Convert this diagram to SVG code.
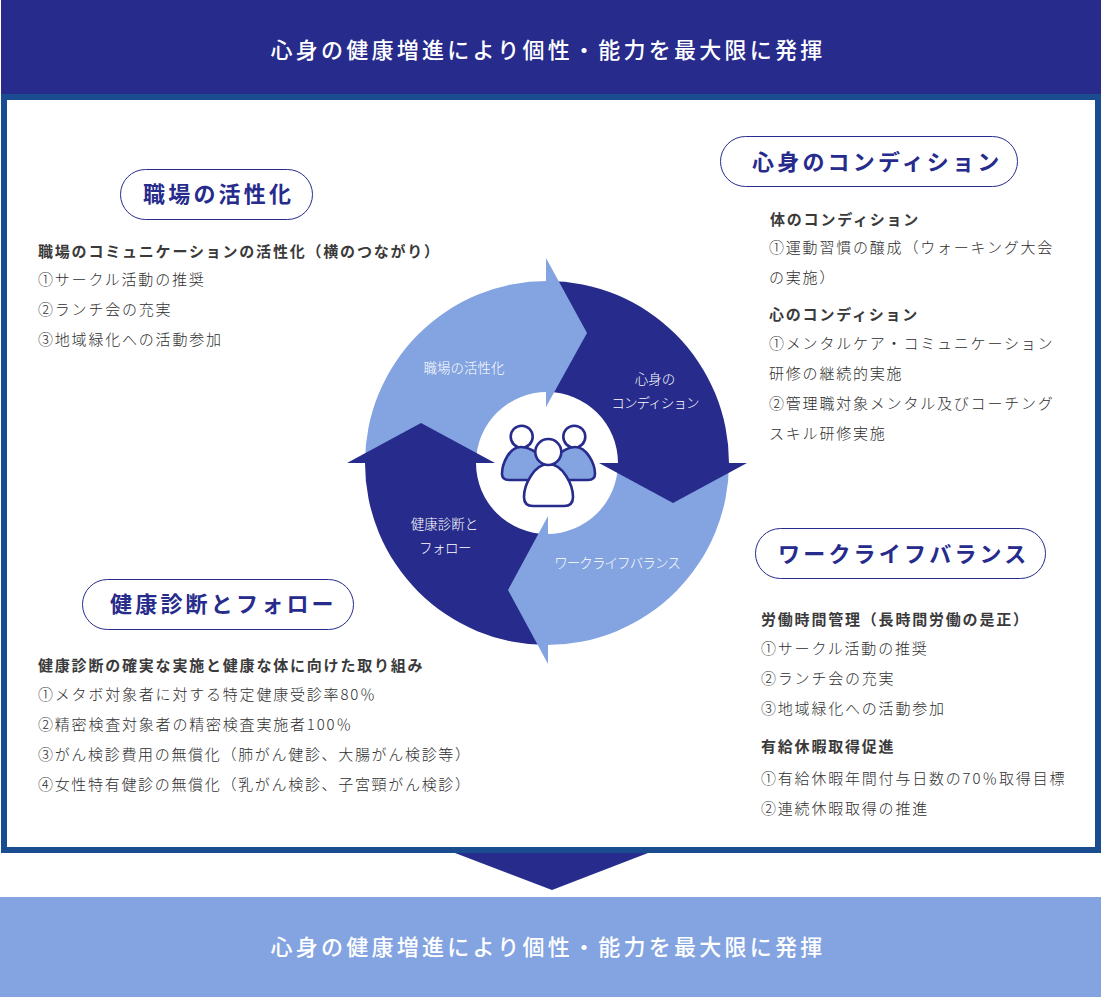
<svg xmlns="http://www.w3.org/2000/svg" width="1101" height="998" viewBox="0 0 1101 998">
<style>
text{font-family:"Noto Sans CJK JP","Noto Sans",sans-serif}
.band{font-size:22px;font-weight:500;letter-spacing:3.25px;fill:#fff;text-anchor:middle}
.pill{fill:#fff;stroke:#262b8c;stroke-width:1}
.ttl{font-size:22px;font-weight:700;letter-spacing:3.2px;fill:#262b8c}
.h{font-size:15px;font-weight:700;letter-spacing:1.8px;fill:#3a3a3a}
.b{font-size:15px;font-weight:300;letter-spacing:1.8px;fill:#2e2e2e}
.n{letter-spacing:1.68px}
.seg{font-size:13.5px;font-weight:300;fill:#fff;text-anchor:middle}
.kana{letter-spacing:-0.9px}
.dk{fill:#262b8c}.lt{fill:#83a4e0}
.ic{stroke:#262b8c;stroke-width:2.6;stroke-linejoin:round}
</style>
<g id="top-band"><rect x="1" y="0" width="1100" height="95" class="dk"/><text class="band" x="548" y="58">心身の健康増進により個性・能力を最大限に発揮</text></g>
<g id="frame"><rect x="4" y="97" width="1094" height="753" fill="#fff" stroke="#1a4d8f" stroke-width="6"/></g>
<g id="connectors"><polygon class="dk" points="455,853 648,853 552,890"/></g>
<g id="bottom-band"><rect x="0" y="897" width="1101" height="100" class="lt"/><text class="band" x="548" y="955">心身の健康増進により個性・能力を最大限に発揮</text></g>
<g id="cycle">
<g id="seg-right"><path class="dk" d="M547 281A182 182 0 0 1 729 463H618A71 71 0 0 0 547 392Z"/></g>
<g id="seg-bottom"><path class="lt" d="M729 463A182 182 0 0 1 547 645V534A71 71 0 0 0 618 463Z"/></g>
<g id="seg-left"><path class="dk" d="M547 645A182 182 0 0 1 365 463H476A71 71 0 0 0 547 534Z"/></g>
<g id="seg-top"><path class="lt" d="M365 463A182 182 0 0 1 547 281V392A71 71 0 0 0 476 463Z"/></g>
<polygon class="lt" points="546,258 587,333 546,407"/>
<polygon class="dk" points="599,463 747,463 673,503"/>
<polygon class="lt" points="548,516 508,590 548,664"/>
<polygon class="dk" points="347,463 495,463 421,423"/>
<text class="seg" x="464" y="373">職場の活性化</text>
<text class="seg" x="655" y="384">心身の</text>
<text class="seg kana" x="655" y="408">コンディション</text>
<text class="seg kana" x="617" y="568">ワークライフバランス</text>
<text class="seg" x="444.500" y="529">健康診断と</text>
<text class="seg" style="letter-spacing:-0.5px" x="445" y="553">フォロー</text>
</g>
<g id="people-icon">
<circle class="ic" cx="521.7" cy="436.7" r="11" fill="#fff"/>
<circle class="ic" cx="574.3" cy="436.7" r="11" fill="#fff"/>
<path class="ic lt" d="M521 447C509 447 502 464 502 474Q502 480 509 480H535L545 460Q532 447 521 447Z"/>
<path class="ic lt" d="M575 447C587 447 595 464 595 474Q595 480 588 480H562L552 460Q565 447 575 447Z"/>
<path class="ic" fill="#fff" d="M548.500 464C534 464 524 485 524 497Q524 506 533 506H564Q573 506 573 497C573 485 563 464 548.500 464Z"/>
<circle class="ic" cx="548.300" cy="452" r="13" fill="#fff"/>
</g>
<g id="node-workplace">
<rect class="pill" x="120.500" y="169.500" width="192" height="50" rx="25"/>
<text class="ttl" x="143" y="202">職場の活性化</text>
<text class="h" x="38" y="257">職場のコミュニケーションの活性化（横のつながり）</text>
<text class="b" x="38" y="285">①サークル活動の推奨</text>
<text class="b" x="38" y="315">②ランチ会の充実</text>
<text class="b" x="38" y="345">③地域緑化への活動参加</text>
</g>
<g id="node-condition">
<rect class="pill" x="720.500" y="136.500" width="297" height="50" rx="25"/>
<text class="ttl" x="752" y="170">心身のコンディション</text>
<text class="h" x="770" y="225">体のコンディション</text>
<text class="b" x="769" y="253">①運動習慣の醸成（ウォーキング大会</text>
<text class="b" x="769" y="283">の実施）</text>
<text class="h" x="769" y="320">心のコンディション</text>
<text class="b" x="769" y="349">①メンタルケア・コミュニケーション</text>
<text class="b" x="769" y="379">研修の継続的実施</text>
<text class="b" x="769" y="409">②管理職対象メンタル及びコーチング</text>
<text class="b" x="769" y="439">スキル研修実施</text>
</g>
<g id="node-worklife">
<rect class="pill" x="755.500" y="528.500" width="290" height="50" rx="25"/>
<text class="ttl" x="778" y="562">ワークライフバランス</text>
<text class="h" x="761" y="625">労働時間管理（長時間労働の是正）</text>
<text class="b" x="761" y="654">①サークル活動の推奨</text>
<text class="b" x="761" y="684">②ランチ会の充実</text>
<text class="b" x="761" y="714">③地域緑化への活動参加</text>
<text class="h" x="761" y="752">有給休暇取得促進</text>
<text class="b" x="761" y="784">①有給休暇年間付与日数の70％取得目標</text>
<text class="b" x="761" y="814">②連続休暇取得の推進</text>
</g>
<g id="node-health">
<rect class="pill" x="82.500" y="579.500" width="271" height="50" rx="25"/>
<text class="ttl" x="110" y="612">健康診断とフォロー</text>
<text class="h" x="38" y="671">健康診断の確実な実施と健康な体に向けた取り組み</text>
<text class="b" x="38" y="700">①メタボ対象者に対する特定健康受診率80％</text>
<text class="b" x="38" y="730">②精密検査対象者の精密検査実施者100％</text>
<text class="b n" x="38" y="760">③がん検診費用の無償化（肺がん健診、大腸がん検診等）</text>
<text class="b n" x="38" y="790">④女性特有健診の無償化（乳がん検診、子宮頸がん検診）</text>
</g>
</svg>
